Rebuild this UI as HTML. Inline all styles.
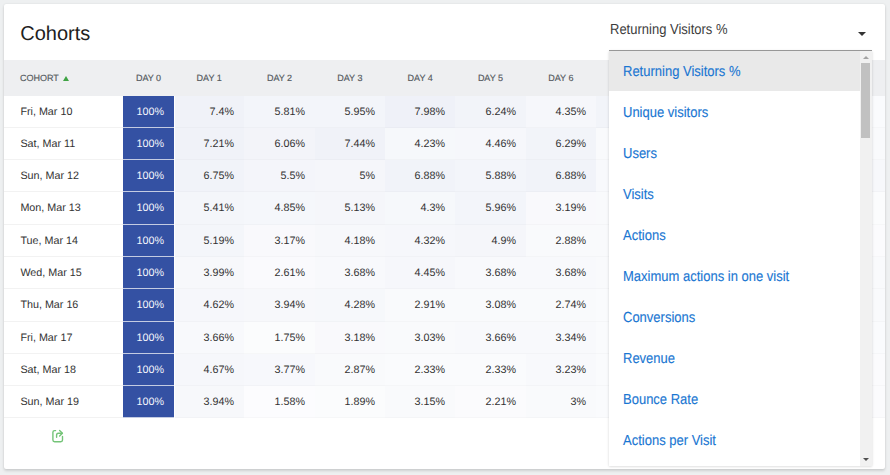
<!DOCTYPE html><html><head><meta charset="utf-8"><title>Cohorts</title><style>
*{box-sizing:border-box;margin:0;padding:0}
html,body{width:890px;height:475px;overflow:hidden;background:#eef0f1;font-family:"Liberation Sans",Arial,sans-serif;text-rendering:geometricPrecision}
.card{position:absolute;left:4px;top:4px;width:881px;height:465px;background:#fff;overflow:hidden;border-radius:2px;
 box-shadow:0 2px 3px 0 rgba(0,0,0,.13),0 0 2px 0 rgba(0,0,0,.1);}
.title{position:absolute;left:16.2px;top:20px;font-size:20px;line-height:20px;color:#212121;white-space:nowrap}
.thead{position:absolute;left:0;top:56px;width:881px;height:36px;background:#eeeff1}
.th{position:absolute;top:0;height:36px;line-height:36px;font-size:9px;color:#555a60;text-align:center;white-space:nowrap;-webkit-text-stroke:0.15px}
.th.c0{text-align:left}
.tri{display:inline-block;width:0;height:0;border-left:3.7px solid transparent;border-right:3.7px solid transparent;border-bottom:5.2px solid #3fa344;margin-left:3.8px;vertical-align:0.3px}
.row{position:absolute;left:0;width:881px}
.td{position:absolute;top:0;font-size:10.75px;color:#333;text-align:right;padding-right:10px;white-space:nowrap;border-bottom:1px solid #f2f2f2}
.td.lab{text-align:left;padding-left:16.4px;padding-right:0}
.td.d0{color:#f3f5fb}
.export{position:absolute;left:44px;top:422px}
.sel{position:absolute;left:610px;top:22.3px;font-size:13px;line-height:16px;color:#3c3c3c;white-space:nowrap;transform:scaleY(1.12);transform-origin:0 12.5px}
.caret{position:absolute;left:858px;top:32px;width:0;height:0;border-left:4px solid transparent;border-right:4px solid transparent;border-top:4px solid #333}
.dline{position:absolute;left:609px;top:50px;width:263px;height:1px;background:#9e9e9e}
.dd{position:absolute;left:609px;top:51px;width:263px;height:415px;background:#fff;overflow:hidden;
 box-shadow:0 0 3px 0 rgba(0,0,0,.1),0 1px 2px 0 rgba(0,0,0,.08)}
.li{position:absolute;left:0;width:251px;height:41px}
.li span{position:absolute;left:14px;top:12.6px;font-size:13px;line-height:16px;color:#1976d2;white-space:nowrap;-webkit-text-stroke:0.12px;transform:scaleY(1.12);transform-origin:0 12.5px}
.li.on{background:#e9e9e9;height:40px}
.track{position:absolute;left:251px;top:0;width:12px;height:415px;background:#f1f1f1}
.thumb{position:absolute;left:252px;top:12px;width:9px;height:75px;background:#c1c1c1}
.up{position:absolute;left:254px;top:5px;width:0;height:0;border-left:3px solid transparent;border-right:3px solid transparent;border-bottom:3px solid #a3a3a3}
.down{position:absolute;left:254px;top:407px;width:0;height:0;border-left:3px solid transparent;border-right:3px solid transparent;border-top:3px solid #505050}
</style></head><body>
<div class="card">
<div class="title">Cohorts</div>
<div class="thead">
<div class="th c0" style="left:16px;width:100px">COHORT<span class="tri"></span></div>
<div class="th" style="left:119.00px;width:51.00px">DAY 0</div>
<div class="th" style="left:170.00px;width:70.33px">DAY 1</div>
<div class="th" style="left:240.33px;width:70.33px">DAY 2</div>
<div class="th" style="left:310.66px;width:70.33px">DAY 3</div>
<div class="th" style="left:380.99px;width:70.33px">DAY 4</div>
<div class="th" style="left:451.32px;width:70.33px">DAY 5</div>
<div class="th" style="left:521.65px;width:70.33px">DAY 6</div>
<div class="th" style="left:591.98px;width:70.33px">DAY 7</div>
</div>
<div class="row" style="top:92px;height:32px;line-height:32.6px">
<div class="td lab" style="left:0;width:119px;height:32px">Fri, Mar 10</div>
<div class="td d0" style="left:119px;width:51px;height:32px;background:#3451a3;border-bottom-color:#c3cbe2">100%</div>
<div class="td" style="left:171px;width:69px;height:32px;background:#f0f2f8;border-bottom-color:#ebedf3">7.4%</div>
<div class="td" style="left:240px;width:71px;height:32px;background:#f3f5fa;border-bottom-color:#eef0f5">5.81%</div>
<div class="td" style="left:311px;width:70px;height:32px;background:#f3f5fa;border-bottom-color:#eef0f5">5.95%</div>
<div class="td" style="left:381px;width:70px;height:32px;background:#eff1f8;border-bottom-color:#eaecf3">7.98%</div>
<div class="td" style="left:451px;width:71px;height:32px;background:#f2f4f9;border-bottom-color:#edeff4">6.24%</div>
<div class="td" style="left:522px;width:70px;height:32px;background:#f6f7fb;border-bottom-color:#f1f2f6">4.35%</div>
<div class="td" style="left:592px;width:70px;height:32px;background:#f2f4f9;border-bottom-color:#edeff4"></div>
<div class="td" style="left:696px;width:200px;height:32px;background:#fafbfd;border-bottom-color:#f5f6f8"></div>
</div>
<div class="row" style="top:124px;height:32px;line-height:32.6px">
<div class="td lab" style="left:0;width:119px;height:32px">Sat, Mar 11</div>
<div class="td d0" style="left:119px;width:51px;height:32px;background:#3451a3;border-bottom-color:#c3cbe2">100%</div>
<div class="td" style="left:171px;width:69px;height:32px;background:#f0f2f8;border-bottom-color:#ebedf3">7.21%</div>
<div class="td" style="left:240px;width:71px;height:32px;background:#f3f4f9;border-bottom-color:#eeeff4">6.06%</div>
<div class="td" style="left:311px;width:70px;height:32px;background:#f0f2f8;border-bottom-color:#ebedf3">7.44%</div>
<div class="td" style="left:381px;width:70px;height:32px;background:#f6f8fb;border-bottom-color:#f1f3f6">4.23%</div>
<div class="td" style="left:451px;width:71px;height:32px;background:#f6f7fb;border-bottom-color:#f1f2f6">4.46%</div>
<div class="td" style="left:522px;width:70px;height:32px;background:#f2f4f9;border-bottom-color:#edeff4">6.29%</div>
<div class="td" style="left:592px;width:70px;height:32px;background:#f9fafc;border-bottom-color:#f4f5f7"></div>
<div class="td" style="left:696px;width:200px;height:32px;background:#f9fafc;border-bottom-color:#f4f5f7"></div>
</div>
<div class="row" style="top:156px;height:32px;line-height:32.6px">
<div class="td lab" style="left:0;width:119px;height:32px">Sun, Mar 12</div>
<div class="td d0" style="left:119px;width:51px;height:32px;background:#3451a3;border-bottom-color:#c3cbe2">100%</div>
<div class="td" style="left:171px;width:69px;height:32px;background:#f1f3f9;border-bottom-color:#eceef4">6.75%</div>
<div class="td" style="left:240px;width:71px;height:32px;background:#f4f5fa;border-bottom-color:#eff0f5">5.5%</div>
<div class="td" style="left:311px;width:70px;height:32px;background:#f5f6fa;border-bottom-color:#f0f1f5">5%</div>
<div class="td" style="left:381px;width:70px;height:32px;background:#f1f3f9;border-bottom-color:#eceef4">6.88%</div>
<div class="td" style="left:451px;width:71px;height:32px;background:#f3f5fa;border-bottom-color:#eef0f5">5.88%</div>
<div class="td" style="left:522px;width:70px;height:32px;background:#f1f3f9;border-bottom-color:#eceef4">6.88%</div>
<div class="td" style="left:592px;width:70px;height:32px;background:#f8f9fc;border-bottom-color:#f3f4f7"></div>
<div class="td" style="left:696px;width:200px;height:32px;background:#f7f8fb;border-bottom-color:#f2f3f6"></div>
</div>
<div class="row" style="top:188px;height:33px;line-height:32.6px">
<div class="td lab" style="left:0;width:119px;height:33px">Mon, Mar 13</div>
<div class="td d0" style="left:119px;width:51px;height:33px;background:#3451a3;border-bottom-color:#c3cbe2">100%</div>
<div class="td" style="left:171px;width:69px;height:33px;background:#f4f6fa;border-bottom-color:#eff1f5">5.41%</div>
<div class="td" style="left:240px;width:71px;height:33px;background:#f5f7fb;border-bottom-color:#f0f2f6">4.85%</div>
<div class="td" style="left:311px;width:70px;height:33px;background:#f5f6fa;border-bottom-color:#f0f1f5">5.13%</div>
<div class="td" style="left:381px;width:70px;height:33px;background:#f6f8fb;border-bottom-color:#f1f3f6">4.3%</div>
<div class="td" style="left:451px;width:71px;height:33px;background:#f3f5fa;border-bottom-color:#eef0f5">5.96%</div>
<div class="td" style="left:522px;width:70px;height:33px;background:#f9f9fc;border-bottom-color:#f4f4f7">3.19%</div>
<div class="td" style="left:592px;width:70px;height:33px;background:#f9fafc;border-bottom-color:#f4f5f7"></div>
<div class="td" style="left:696px;width:200px;height:33px;background:#fbfcfd;border-bottom-color:#f6f7f8"></div>
</div>
<div class="row" style="top:221px;height:32px;line-height:32.6px">
<div class="td lab" style="left:0;width:119px;height:32px">Tue, Mar 14</div>
<div class="td d0" style="left:119px;width:51px;height:32px;background:#3451a3;border-bottom-color:#c3cbe2">100%</div>
<div class="td" style="left:171px;width:69px;height:32px;background:#f4f6fa;border-bottom-color:#eff1f5">5.19%</div>
<div class="td" style="left:240px;width:71px;height:32px;background:#f9f9fc;border-bottom-color:#f4f4f7">3.17%</div>
<div class="td" style="left:311px;width:70px;height:32px;background:#f7f8fb;border-bottom-color:#f2f3f6">4.18%</div>
<div class="td" style="left:381px;width:70px;height:32px;background:#f6f7fb;border-bottom-color:#f1f2f6">4.32%</div>
<div class="td" style="left:451px;width:71px;height:32px;background:#f5f6fa;border-bottom-color:#f0f1f5">4.9%</div>
<div class="td" style="left:522px;width:70px;height:32px;background:#f9fafc;border-bottom-color:#f4f5f7">2.88%</div>
<div class="td" style="left:592px;width:70px;height:32px;background:#f9fafc;border-bottom-color:#f4f5f7"></div>
<div class="td" style="left:696px;width:200px;height:32px;background:#fbfbfd;border-bottom-color:#f6f6f8"></div>
</div>
<div class="row" style="top:253px;height:32px;line-height:32.6px">
<div class="td lab" style="left:0;width:119px;height:32px">Wed, Mar 15</div>
<div class="td d0" style="left:119px;width:51px;height:32px;background:#3451a3;border-bottom-color:#c3cbe2">100%</div>
<div class="td" style="left:171px;width:69px;height:32px;background:#f7f8fb;border-bottom-color:#f2f3f6">3.99%</div>
<div class="td" style="left:240px;width:71px;height:32px;background:#fafafd;border-bottom-color:#f5f5f8">2.61%</div>
<div class="td" style="left:311px;width:70px;height:32px;background:#f8f9fc;border-bottom-color:#f3f4f7">3.68%</div>
<div class="td" style="left:381px;width:70px;height:32px;background:#f6f7fb;border-bottom-color:#f1f2f6">4.45%</div>
<div class="td" style="left:451px;width:71px;height:32px;background:#f8f9fc;border-bottom-color:#f3f4f7">3.68%</div>
<div class="td" style="left:522px;width:70px;height:32px;background:#f8f9fc;border-bottom-color:#f3f4f7">3.68%</div>
<div class="td" style="left:592px;width:70px;height:32px;background:#f9fafc;border-bottom-color:#f4f5f7"></div>
<div class="td" style="left:696px;width:200px;height:32px;background:#f9fafc;border-bottom-color:#f4f5f7"></div>
</div>
<div class="row" style="top:285px;height:33px;line-height:32.6px">
<div class="td lab" style="left:0;width:119px;height:33px">Thu, Mar 16</div>
<div class="td d0" style="left:119px;width:51px;height:33px;background:#3451a3;border-bottom-color:#c3cbe2">100%</div>
<div class="td" style="left:171px;width:69px;height:33px;background:#f6f7fb;border-bottom-color:#f1f2f6">4.62%</div>
<div class="td" style="left:240px;width:71px;height:33px;background:#f7f8fb;border-bottom-color:#f2f3f6">3.94%</div>
<div class="td" style="left:311px;width:70px;height:33px;background:#f6f8fb;border-bottom-color:#f1f3f6">4.28%</div>
<div class="td" style="left:381px;width:70px;height:33px;background:#f9fafc;border-bottom-color:#f4f5f7">2.91%</div>
<div class="td" style="left:451px;width:71px;height:33px;background:#f9fafc;border-bottom-color:#f4f5f7">3.08%</div>
<div class="td" style="left:522px;width:70px;height:33px;background:#f9fafc;border-bottom-color:#f4f5f7">2.74%</div>
<div class="td" style="left:592px;width:70px;height:33px;background:#fafbfd;border-bottom-color:#f5f6f8"></div>
<div class="td" style="left:696px;width:200px;height:33px;background:#f9fafc;border-bottom-color:#f4f5f7"></div>
</div>
<div class="row" style="top:318px;height:32px;line-height:32.6px">
<div class="td lab" style="left:0;width:119px;height:32px">Fri, Mar 17</div>
<div class="td d0" style="left:119px;width:51px;height:32px;background:#3451a3;border-bottom-color:#c3cbe2">100%</div>
<div class="td" style="left:171px;width:69px;height:32px;background:#f8f9fc;border-bottom-color:#f3f4f7">3.66%</div>
<div class="td" style="left:240px;width:71px;height:32px;background:#fbfcfd;border-bottom-color:#f6f7f8">1.75%</div>
<div class="td" style="left:311px;width:70px;height:32px;background:#f9f9fc;border-bottom-color:#f4f4f7">3.18%</div>
<div class="td" style="left:381px;width:70px;height:32px;background:#f9fafc;border-bottom-color:#f4f5f7">3.03%</div>
<div class="td" style="left:451px;width:71px;height:32px;background:#f8f9fc;border-bottom-color:#f3f4f7">3.66%</div>
<div class="td" style="left:522px;width:70px;height:32px;background:#f8f9fc;border-bottom-color:#f3f4f7">3.34%</div>
<div class="td" style="left:592px;width:70px;height:32px;background:#fafbfd;border-bottom-color:#f5f6f8"></div>
<div class="td" style="left:696px;width:200px;height:32px;background:#fafbfd;border-bottom-color:#f5f6f8"></div>
</div>
<div class="row" style="top:350px;height:32px;line-height:32.6px">
<div class="td lab" style="left:0;width:119px;height:32px">Sat, Mar 18</div>
<div class="td d0" style="left:119px;width:51px;height:32px;background:#3451a3;border-bottom-color:#c3cbe2">100%</div>
<div class="td" style="left:171px;width:69px;height:32px;background:#f6f7fb;border-bottom-color:#f1f2f6">4.67%</div>
<div class="td" style="left:240px;width:71px;height:32px;background:#f7f8fc;border-bottom-color:#f2f3f7">3.77%</div>
<div class="td" style="left:311px;width:70px;height:32px;background:#f9fafc;border-bottom-color:#f4f5f7">2.87%</div>
<div class="td" style="left:381px;width:70px;height:32px;background:#fafbfd;border-bottom-color:#f5f6f8">2.33%</div>
<div class="td" style="left:451px;width:71px;height:32px;background:#fafbfd;border-bottom-color:#f5f6f8">2.33%</div>
<div class="td" style="left:522px;width:70px;height:32px;background:#f8f9fc;border-bottom-color:#f3f4f7">3.23%</div>
<div class="td" style="left:592px;width:70px;height:32px;background:#fafbfd;border-bottom-color:#f5f6f8"></div>
<div class="td" style="left:696px;width:200px;height:32px;background:#fbfbfd;border-bottom-color:#f6f6f8"></div>
</div>
<div class="row" style="top:382px;height:32px;line-height:32.6px">
<div class="td lab" style="left:0;width:119px;height:32px">Sun, Mar 19</div>
<div class="td d0" style="left:119px;width:51px;height:32px;background:#3451a3;border-bottom-color:#c3cbe2">100%</div>
<div class="td" style="left:171px;width:69px;height:32px;background:#f7f8fb;border-bottom-color:#f2f3f6">3.94%</div>
<div class="td" style="left:240px;width:71px;height:32px;background:#fcfcfe;border-bottom-color:#f7f7f9">1.58%</div>
<div class="td" style="left:311px;width:70px;height:32px;background:#fbfcfd;border-bottom-color:#f6f7f8">1.89%</div>
<div class="td" style="left:381px;width:70px;height:32px;background:#f9fafc;border-bottom-color:#f4f5f7">3.15%</div>
<div class="td" style="left:451px;width:71px;height:32px;background:#fbfbfd;border-bottom-color:#f6f6f8">2.21%</div>
<div class="td" style="left:522px;width:70px;height:32px;background:#f9fafc;border-bottom-color:#f4f5f7">3%</div>
<div class="td" style="left:592px;width:70px;height:32px;background:#fafbfd;border-bottom-color:#f5f6f8"></div>
<div class="td" style="left:696px;width:200px;height:32px;background:#fbfbfd;border-bottom-color:#f6f6f8"></div>
</div>
<svg class="export" width="20" height="20" viewBox="48 426 20 20" fill="none" stroke="#74c478" stroke-width="1.4" stroke-linecap="round" stroke-linejoin="round">
<path d="M55.6 430.6H54.6a1.7 1.7 0 0 0-1.7 1.7v7.8a1.7 1.7 0 0 0 1.7 1.7h6.2a1.7 1.7 0 0 0 1.7-1.7V436.4"/>
<path d="M56.6 437.3V435a1.8 1.8 0 0 1 1.8-1.8H62.2"/><path d="M59.6 430.5L62.4 433.2L59.6 435.9"/></svg>
</div>
<div class="sel">Returning Visitors %</div><div class="caret"></div><div class="dline"></div>
<div class="dd">
<div class="li on" style="top:0px"><span>Returning Visitors %</span></div>
<div class="li" style="top:41px"><span>Unique visitors</span></div>
<div class="li" style="top:82px"><span>Users</span></div>
<div class="li" style="top:123px"><span>Visits</span></div>
<div class="li" style="top:164px"><span>Actions</span></div>
<div class="li" style="top:205px"><span>Maximum actions in one visit</span></div>
<div class="li" style="top:246px"><span>Conversions</span></div>
<div class="li" style="top:287px"><span>Revenue</span></div>
<div class="li" style="top:328px"><span>Bounce Rate</span></div>
<div class="li" style="top:369px"><span>Actions per Visit</span></div>
<div class="li" style="top:410px"><span>Average visit duration</span></div>
<div class="track"></div><div class="thumb"></div><div class="up"></div><div class="down"></div>
</div>
</body></html>
